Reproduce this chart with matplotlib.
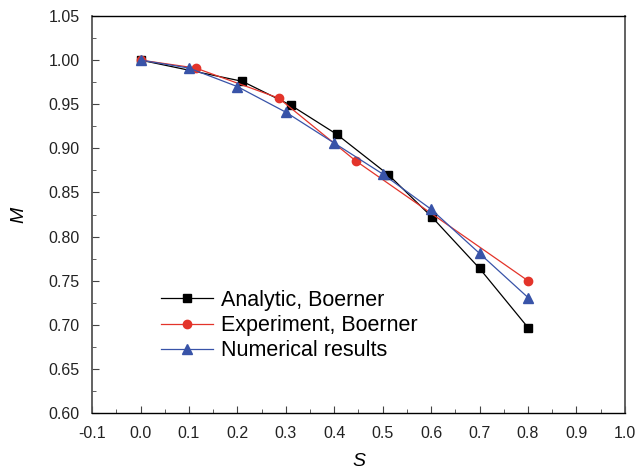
import matplotlib
matplotlib.use("Agg")
import matplotlib.pyplot as plt
from matplotlib.ticker import MultipleLocator

plt.rcParams['font.family'] = ['Liberation Sans', 'DejaVu Sans']

# analytic solution (Boerner)
analytic_s = [0.0, 0.21, 0.31, 0.405, 0.512, 0.602, 0.70, 0.80]
analytic_m = [1.000, 0.976, 0.949, 0.916, 0.870, 0.822, 0.764, 0.697]

# experiment (Boerner)
experiment_s = [0.0, 0.114, 0.285, 0.444, 0.80]
experiment_m = [1.000, 0.991, 0.957, 0.886, 0.750]

# numerical results
numerical_s = [0.0, 0.10, 0.20, 0.30, 0.40, 0.50, 0.60, 0.70, 0.80]
numerical_m = [1.000, 0.991, 0.970, 0.941, 0.906, 0.871, 0.831, 0.781, 0.731]

fig = plt.figure(figsize=(6.35, 4.7), dpi=100)
ax = fig.add_axes([0.145, 0.121, 0.839, 0.845])

ax.plot(analytic_s, analytic_m, color='black', lw=0.9, marker='s',
        markersize=5.5, label="Analytic, Boerner")
ax.plot(experiment_s, experiment_m, color='#e3342a', lw=0.9, marker='o',
        markersize=6, label="Experiment, Boerner")
ax.plot(numerical_s, numerical_m, color='#3853a8', lw=0.9, marker='^',
        markersize=7, label="Numerical results")

ax.set_xlim(-0.1, 1.0)
ax.set_ylim(0.60, 1.05)
ax.xaxis.set_major_locator(MultipleLocator(0.1))
ax.xaxis.set_minor_locator(MultipleLocator(0.05))
ax.yaxis.set_major_locator(MultipleLocator(0.05))
ax.yaxis.set_minor_locator(MultipleLocator(0.025))
ax.xaxis.set_major_formatter(plt.FormatStrFormatter('%.1f'))
ax.yaxis.set_major_formatter(plt.FormatStrFormatter('%.2f'))

ax.tick_params(which='both', direction='in', labelsize=11.5, color='#444444',
               labelcolor='#222222')
ax.tick_params(which='major', length=5)
ax.tick_params(which='minor', length=3)
ax.tick_params(axis='x', pad=9)
ax.tick_params(axis='y', pad=9)

for side in ('left', 'right'):
    ax.spines[side].set_color('#555555')
    ax.spines[side].set_linewidth(1.3)
for side in ('top', 'bottom'):
    ax.spines[side].set_color('black')
    ax.spines[side].set_linewidth(1.0)

ax.set_xlabel("S", fontsize=14, style='italic', labelpad=9)
ax.set_ylabel("M", fontsize=14, style='italic', labelpad=15)

ax.legend(loc='upper left', bbox_to_anchor=(0.113, 0.332), frameon=False,
          fontsize=15.5, handlelength=2.4, labelspacing=0.2, handletextpad=0.4,
          borderaxespad=0)

fig.savefig("out.png", dpi=100)
